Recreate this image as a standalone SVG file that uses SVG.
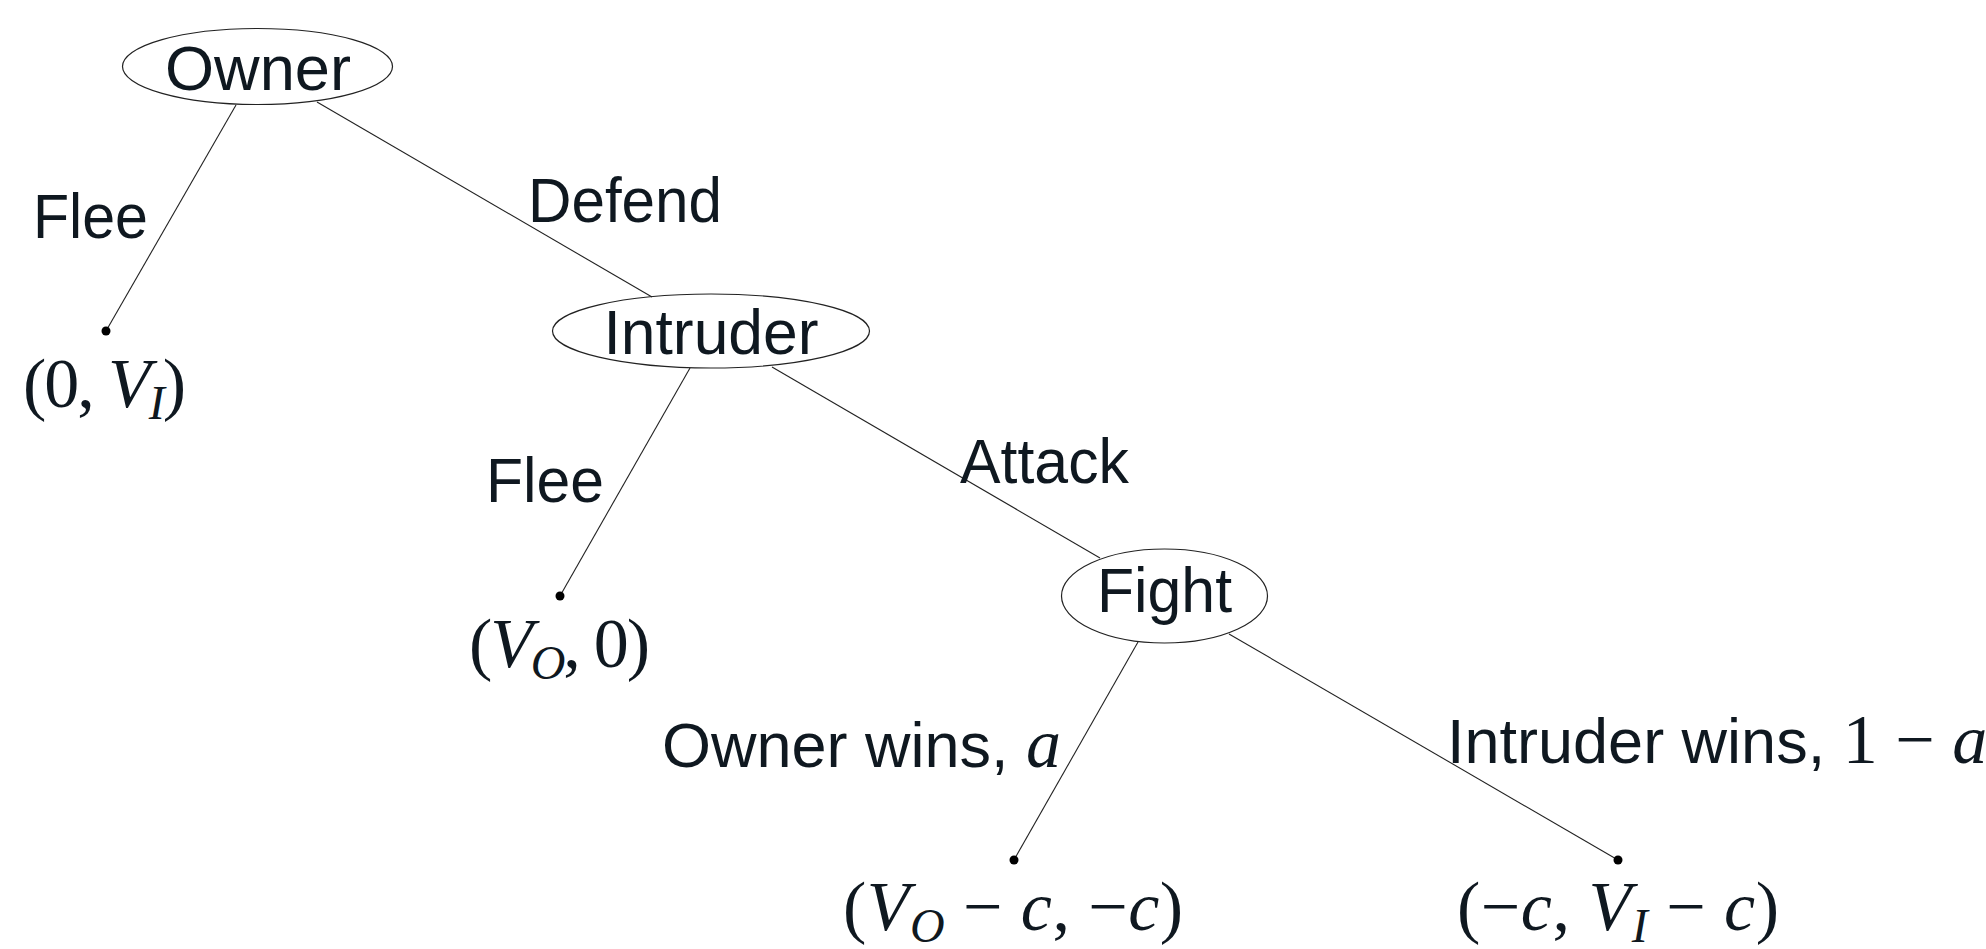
<svg xmlns="http://www.w3.org/2000/svg" width="1986" height="949" viewBox="0 0 1986 949">
<style>
.bg{fill:#ffffff}
.node{fill:none;stroke:#222;stroke-width:1.2}
.edge{stroke:#222;stroke-width:1.1;fill:none}
.dot{fill:#000}
.t{font-family:"Liberation Sans",Arial,sans-serif;font-size:63px;fill:#0f1820}
.m{font-family:"Liberation Serif","Times New Roman",serif;font-size:70px;fill:#0f1820}
.i{font-style:italic}
.sub{font-size:48px}
</style>
<rect class="bg" x="0" y="0" width="1986" height="949"/>
<g id="connectors">
  <line class="edge" x1="236" y1="105" x2="106" y2="331"/>
  <line class="edge" x1="317" y1="102" x2="652" y2="297"/>
  <line class="edge" x1="690" y1="368" x2="560" y2="596"/>
  <line class="edge" x1="772" y1="367" x2="1100" y2="558"/>
  <line class="edge" x1="1138" y1="642" x2="1014" y2="860"/>
  <line class="edge" x1="1229" y1="634" x2="1618" y2="860"/>
  <text class="t" x="33" y="238" textLength="115" lengthAdjust="spacingAndGlyphs">Flee</text>
  <text class="t" x="528" y="222" textLength="194" lengthAdjust="spacingAndGlyphs">Defend</text>
  <text class="t" x="486" y="502" textLength="118" lengthAdjust="spacingAndGlyphs">Flee</text>
  <text class="t" x="960" y="483" textLength="169" lengthAdjust="spacingAndGlyphs">Attack</text>
  <text class="t" x="662" y="767">Owner wins, <tspan class="m i">a</tspan></text>
  <text class="t" x="1447" y="763">Intruder wins, <tspan class="m">1 − </tspan><tspan class="m i">a</tspan></text>
</g>
<g id="owner">
  <ellipse class="node" cx="257.5" cy="66.5" rx="135" ry="38"/>
  <text class="t" x="258" y="90" text-anchor="middle" textLength="186" lengthAdjust="spacingAndGlyphs">Owner</text>
</g>
<g id="intruder">
  <ellipse class="node" cx="711" cy="331" rx="158.5" ry="37"/>
  <text class="t" x="711" y="354" text-anchor="middle" textLength="215" lengthAdjust="spacingAndGlyphs">Intruder</text>
</g>
<g id="fight">
  <ellipse class="node" cx="1164.5" cy="596" rx="103" ry="47"/>
  <text class="t" x="1164.5" y="612" text-anchor="middle" textLength="135" lengthAdjust="spacingAndGlyphs">Fight</text>
</g>
<g id="leaf-owner-flee">
  <circle class="dot" cx="106" cy="331" r="4.5"/>
  <text class="m" x="23" y="407" textLength="163" lengthAdjust="spacing">(0, <tspan class="i">V</tspan><tspan class="i sub" dy="12">I</tspan><tspan dy="-12">)</tspan></text>
</g>
<g id="leaf-intruder-flee">
  <circle class="dot" cx="560" cy="596" r="4.5"/>
  <text class="m" x="469" y="667" textLength="181" lengthAdjust="spacing">(<tspan class="i">V</tspan><tspan class="i sub" dy="12">O</tspan><tspan dy="-12">, 0)</tspan></text>
</g>
<g id="leaf-owner-wins">
  <circle class="dot" cx="1014" cy="860" r="4.5"/>
  <text class="m" x="843" y="930" textLength="340" lengthAdjust="spacing">(<tspan class="i">V</tspan><tspan class="i sub" dy="12">O</tspan><tspan dy="-12"> − </tspan><tspan class="i">c</tspan>, −<tspan class="i">c</tspan>)</text>
</g>
<g id="leaf-intruder-wins">
  <circle class="dot" cx="1618" cy="860" r="4.5"/>
  <text class="m" x="1457" y="930" textLength="322" lengthAdjust="spacing">(−<tspan class="i">c</tspan>, <tspan class="i">V</tspan><tspan class="i sub" dy="12">I</tspan><tspan dy="-12"> − </tspan><tspan class="i">c</tspan>)</text>
</g>
</svg>
